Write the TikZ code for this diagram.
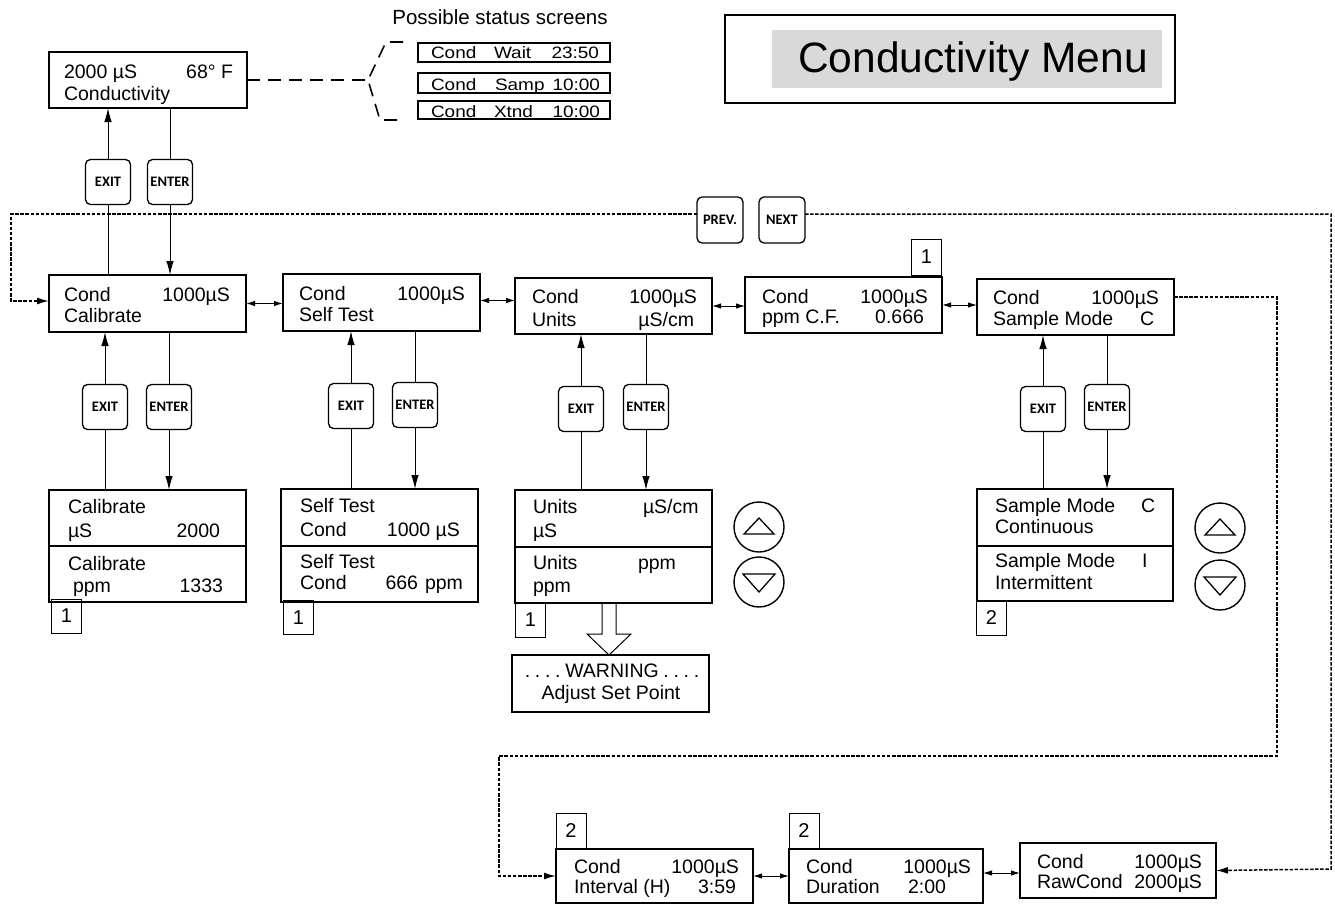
\documentclass[tikz,border=0pt]{standalone}
\usepackage{fontspec}
\setmainfont{Liberation Sans}
\newfontfamily\btnfont{Carlito}
\newfontfamily\widefont[FakeStretch=1.15]{Liberation Sans}
\usetikzlibrary{arrows.meta,calc}
\definecolor{titlegray}{RGB}{217,217,217}
\tikzset{
 scr/.style={draw, line width=1.5pt, inner sep=0pt, outer sep=0pt},
 txt/.style={inner sep=0pt, outer sep=0pt, font=\fontsize{19.5}{23}\selectfont},
 stxt/.style={inner sep=0pt, outer sep=0pt, font=\widefont\fontsize{16.5}{18}\selectfont},
 btn/.style={draw, line width=1.3pt, rounded corners=5pt, minimum width=45pt, minimum height=45pt, inner sep=0pt, outer sep=0pt, font=\btnfont\bfseries\fontsize{14.5}{16}\selectfont},
 sqr/.style={draw, line width=1pt, minimum width=30pt, minimum height=34pt, inner sep=0pt, font=\fontsize{20}{23}\selectfont},
 updn/.style={draw, circle, line width=1.4pt, minimum size=50pt, inner sep=0pt, outer sep=0pt},
 lnk/.style={line width=1pt},
 arr/.style={lnk, -{Latex[length=14pt,width=7.5pt]}},
 dbl/.style={lnk, {Latex[length=9pt,width=5.5pt]}-{Latex[length=9pt,width=5.5pt]}},
 dotl/.style={line width=1.5pt, dash pattern=on 3.5pt off 1.6pt},
 dashl/.style={line width=1.6pt, dash pattern=on 13pt off 8pt},
}
\newcommand\scrbox[5]{\node[scr, minimum width={(#4)-(#2)}, minimum height={(#5)-(#3)}] (#1) at ({((#2)+(#4))/2},{((#3)+(#5))/2}) {};}
\newcommand\txw[4]{\node[txt, anchor=base west] (#1) at (#2,#3) {#4};}
\newcommand\txe[4]{\node[txt, anchor=base east] (#1) at (#2,#3) {#4};}
\newcommand\sxw[4]{\node[stxt, anchor=base west] (#1) at (#2,#3) {#4};}
\newcommand\sxe[4]{\node[stxt, anchor=base east] (#1) at (#2,#3) {#4};}
\newcommand\wsp{\hspace{4.7pt}}
\begin{document}
\begin{tikzpicture}[x=1pt,y=-1pt]
\useasboundingbox (0,0) rectangle (1335,907);

% ---------- title ----------
\node[draw, line width=1.3pt, minimum width=450pt, minimum height=88pt, inner sep=0pt] (titlebox) at (950,59) {};
\node[fill=titlegray, minimum width=390pt, minimum height=58pt, inner sep=0pt] (titlefill) at (967,59) {};
\node[inner sep=0pt, anchor=base, font=\fontsize{42.5}{48}\selectfont] (titletext) at (973,72) {Conductivity Menu};

% ---------- status ----------
\scrbox{st}{49}{52}{247}{108}
\txw{st-a}{64}{78}{2000 µS}
\txe{st-b}{233}{78}{68° F}
\txw{st-c}{64}{100}{Conductivity}

\node[inner sep=0pt, anchor=base, font=\fontsize{20.5}{24}\selectfont] (posst) at (500,25) {Possible status screens};
\node[draw, line width=1.1pt, minimum width=192pt, minimum height=19pt, inner sep=0pt] (s1) at (514,52.5) {};
\node[draw, line width=1.1pt, minimum width=192pt, minimum height=20pt, inner sep=0pt] (s2) at (514,83) {};
\node[draw, line width=1.1pt, minimum width=192pt, minimum height=18pt, inner sep=0pt] (s3) at (514,110) {};
\sxw{s1-a}{431}{59}{Cond}\sxw{s1-b}{494}{59}{Wait}\sxe{s1-c}{599}{59}{23:50}
\sxw{s2-a}{431}{90}{Cond}\sxw{s2-b}{495}{90}{Samp}\sxe{s2-c}{600}{90}{10:00}
\sxw{s3-a}{431}{117}{Cond}\sxw{s3-b}{494}{117}{Xtnd}\sxe{s3-c}{600}{117}{10:00}
\coordinate (br) at (368,80);
\draw[dashl] (st.east) -- (br);
\draw[dashl] (403,42) -- (386,42) -- (br) -- (380,120) -- (403,120);

% ---------- buttons ----------
\node[btn] (exit0) at (108,182) {EXIT};
\node[btn] (enter0) at (170,182) {ENTER};
\node[btn] (exit1) at (105,407) {EXIT};
\node[btn] (enter1) at (169,407) {ENTER};
\node[btn] (exit2) at (351,406) {EXIT};
\node[btn] (enter2) at (415,405) {ENTER};
\node[btn] (exit3) at (581,409) {EXIT};
\node[btn] (enter3) at (646,407) {ENTER};
\node[btn] (exit4) at (1043,409) {EXIT};
\node[btn] (enter4) at (1107,407) {ENTER};
\node[btn, minimum width=46pt, minimum height=46pt] (prev) at (720,220) {PREV.};
\node[btn, minimum width=46pt, minimum height=46pt] (next) at (782,220) {NEXT};

% ---------- main row ----------
\scrbox{calM}{49}{275}{246}{332}
\txw{calM-a}{64}{301}{Cond}\txe{calM-b}{230}{301}{1000µS}\txw{calM-c}{64}{322}{Calibrate}
\scrbox{selfM}{283}{274}{480}{331}
\txw{selfM-a}{299}{300}{Cond}\txe{selfM-b}{465}{300}{1000µS}\txw{selfM-c}{299}{321}{Self Test}
\scrbox{unitM}{515}{278}{712}{334}
\txw{unitM-a}{532}{303}{Cond}\txe{unitM-b}{697}{303}{1000µS}\txw{unitM-c}{532}{326}{Units}\txe{unitM-d}{694}{326}{µS/cm}
\scrbox{ppmM}{745}{277}{942}{333}
\txw{ppmM-a}{762}{303}{Cond}\txe{ppmM-b}{928}{303}{1000µS}\txw{ppmM-c}{762}{323}{ppm C.F.}\txe{ppmM-d}{924}{323}{0.666}
\scrbox{sampM}{977}{279}{1174}{335}
\txw{sampM-a}{993}{304}{Cond}\txe{sampM-b}{1159}{304}{1000µS}\txw{sampM-c}{993}{325}{Sample Mode}\txw{sampM-d}{1140}{325}{C}

\draw[dbl] (calM.east) -- (calM.east -| selfM.west);
\draw[dbl] ([yshift=2pt]selfM.east) -- ([yshift=2pt]selfM.east -| unitM.west);
\draw[dbl] (unitM.east) -- (unitM.east -| ppmM.west);
\draw[dbl] (ppmM.east) -- (ppmM.east -| sampM.west);

% ---------- sub screens ----------
\scrbox{calSa}{49}{490}{246}{546}\scrbox{calSb}{49}{546}{246}{602}
\txw{calS-a}{68}{513}{Calibrate}\txw{calS-b}{68}{537}{µS}\txe{calS-c}{220}{537}{2000}
\txw{calS-d}{68}{570}{Calibrate}\txw{calS-e}{73}{592}{ppm}\txe{calS-f}{223}{592}{1333}
\scrbox{selfSa}{281}{489}{478}{546}\scrbox{selfSb}{281}{546}{478}{602}
\txw{selfS-a}{300}{512}{Self Test}\txw{selfS-b}{300}{536}{Cond}\txe{selfS-c}{460}{536}{1000 µS}
\txw{selfS-d}{300}{568}{Self Test}\txw{selfS-e}{300}{589}{Cond}\txe{selfS-f}{463}{589}{666\hspace{7pt}ppm}
\scrbox{unitSa}{515}{490}{712}{547}\scrbox{unitSb}{515}{547}{712}{603}
\txw{unitS-a}{533}{513}{Units}\txw{unitS-b}{643}{513}{µS/cm}\txw{unitS-c}{533}{537}{µS}
\txw{unitS-d}{533}{569}{Units}\txw{unitS-e}{638}{569}{ppm}\txw{unitS-f}{533}{592}{ppm}
\scrbox{sampSa}{977}{489}{1173}{546}\scrbox{sampSb}{977}{546}{1173}{601}
\txw{sampS-a}{995}{512}{Sample Mode}\txw{sampS-b}{1141}{512}{C}\txw{sampS-c}{995}{533}{Continuous}
\txw{sampS-d}{995}{567}{Sample Mode}\txw{sampS-e}{1142}{567}{I}\txw{sampS-f}{995}{589}{Intermittent}

% ---------- vertical links ----------
\draw[lnk] (exit0.south) -- (exit0.south |- calM.north);
\draw[arr] (exit0.north) -- (exit0.north |- st.south);
\draw[lnk] (st.south -| enter0) -- (enter0.north);
\draw[arr] (enter0.south) -- (enter0.south |- calM.north);
\foreach \e/\n/\t/\s in {exit1/enter1/calM/calSa, exit2/enter2/selfM/selfSa, exit3/enter3/unitM/unitSa, exit4/enter4/sampM/sampSa}{
  \draw[arr] (\e.north) -- (\e.north |- \t.south);
  \draw[lnk] (\e.south) -- (\e.south |- \s.north);
  \draw[lnk] (\t.south -| \n) -- (\n.north);
  \draw[arr] (\n.south) -- (\n.south |- \s.north);
}

% ---------- number squares ----------
\node[sqr] (sqA) at (66.5,616) {1};
\node[sqr] (sqB) at (298.5,617.5) {1};
\node[sqr] (sqC) at (530.5,620) {1};
\node[sqr] (sqD) at (991.5,618) {2};
\node[sqr, minimum height=36pt] (sqE) at (926.5,257) {1};
\node[sqr, minimum height=36pt] (sqF) at (571,831) {2};
\node[sqr, minimum height=36pt] (sqG) at (804,831) {2};

% ---------- up / down keys ----------
\node[updn] (up1) at (759,527) {};
\node[updn] (dn1) at (759,582) {};
\node[updn] (up2) at (1220,528) {};
\node[updn] (dn2) at (1220,585) {};
\foreach \c in {up1,up2} \draw[line width=1.3pt, line join=miter] ($(\c)+(0,-9)$) -- ++(15,16) -- ++(-30,0) -- cycle;
\foreach \c in {dn1,dn2} \draw[line width=1.3pt, line join=miter] ($(\c)+(0,10)$) -- ++(16,-18) -- ++(-32,0) -- cycle;

% ---------- warning ----------
\scrbox{warn}{512}{655}{709}{712}
\node[txt, anchor=base] (warn-a) at (612,677) {.\wsp.\wsp.\wsp.\wsp WARNING\wsp.\wsp.\wsp.\wsp.};
\node[txt, anchor=base] (warn-b) at (611,699) {Adjust Set Point};
\coordinate (wa) at (609,603);
\draw[lnk] ([xshift=-7pt]wa) -- ++(0,31) -- ++(-15,0) -- (wa |- warn.north) -- ++(22,-21) -- ++(-15,0) -- ++(0,-31);

% ---------- bottom row ----------
\scrbox{intM}{556}{849}{753}{903}
\txw{intM-a}{574}{873}{Cond}\txe{intM-b}{739}{873}{1000µS}\txw{intM-c}{574}{893}{Interval (H)}\txe{intM-d}{736}{893}{3:59}
\scrbox{durM}{789}{849}{983}{903}
\txw{durM-a}{806}{873}{Cond}\txe{durM-b}{971}{873}{1000µS}\txw{durM-c}{806}{893}{Duration}\txe{durM-d}{946}{893}{2:00}
\scrbox{rawM}{1020}{843}{1216}{898}
\txw{rawM-a}{1037}{868}{Cond}\txe{rawM-b}{1202}{868}{1000µS}\txw{rawM-c}{1037}{888}{RawCond}\txe{rawM-d}{1202}{888}{2000µS}
\draw[dbl] (intM.east) -- (intM.east -| durM.west);
\draw[dbl] ([yshift=3pt]durM.east) -- ([yshift=3pt]durM.east -| rawM.west);

% ---------- dotted menu loop ----------
\coordinate (lc) at (11,301);
\coordinate (rc) at (1331,869);
\coordinate (sc) at (1277,756);
\coordinate (bc) at (499,876);
\draw[dotl, -{Latex[length=12pt,width=7pt]}] ([yshift=6pt]prev.west) -| (lc) -- (lc -| calM.west);
\draw[dotl, -{Latex[length=12pt,width=7pt]}] ([yshift=6pt]next.east) -| (rc) -- (rawM.east);
\draw[dotl, -{Latex[length=12pt,width=7pt]}] ([yshift=10pt]sampM.east) -| (sc) -| (bc) -- (intM.west);
\end{tikzpicture}
\end{document}
